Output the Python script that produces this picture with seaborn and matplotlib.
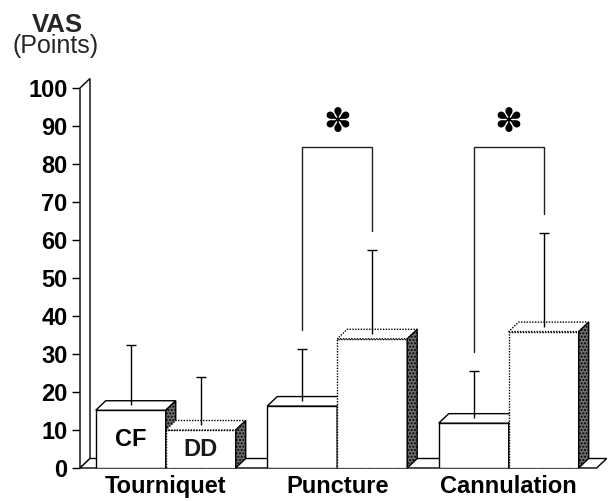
import seaborn as sns
import matplotlib.pyplot as plt
from matplotlib.patches import Polygon
import pandas as pd

sns.set_theme(style='white')
plt.rcParams['font.family'] = ['Liberation Sans', 'DejaVu Sans']

# values (VAS points)
procedures = ['Tourniquet', 'Puncture', 'Cannulation']
groups = ['CF', 'DD']
cf_mean = [15.2, 16.3, 11.8]
dd_mean = [10.0, 34.0, 35.9]
cf_sd = [17.3, 15.0, 13.8]
dd_sd = [14.0, 23.4, 25.9]
significant = ['Puncture', 'Cannulation']
yticks = list(range(0, 101, 10))

df = pd.DataFrame({
    'procedure': procedures * 2,
    'group': ['CF'] * 3 + ['DD'] * 3,
    'vas': cf_mean + dd_mean,
    'sd': cf_sd + dd_sd,
})

fig = plt.figure(figsize=(6.08, 5.01), dpi=100)
ax = fig.add_axes([80 / 608, 33 / 501, 528 / 608, 380 / 501])

sns.barplot(data=df, x='procedure', y='vas', hue='group', order=procedures,
            hue_order=groups, width=0.816, palette=['white', 'white'],
            saturation=1, edgecolor='black', linewidth=1, legend=False,
            errorbar=None, ax=ax)

xmin, xmax = -0.5, 2.579
ax.set_xlim(xmin, xmax)
ax.set_ylim(0, 100)
for s in ax.spines.values():
    s.set_visible(False)

# pseudo 3d depth offset (data units)
dx = 10 / 171.5
dy = 9.5 / 3.8

# left wall and floor
wall = Polygon([(xmin, 0), (xmin, 100), (xmin + dx, 100 + dy), (xmin + dx, dy)],
               closed=True, facecolor='white', edgecolor='black', lw=1,
               clip_on=False, zorder=1)
ax.add_patch(wall)
xr = 2.513
floor = Polygon([(xmin, 0), (xr, 0), (xr + dx, dy), (xmin + dx, dy)],
                closed=True, facecolor='white', edgecolor='black', lw=1,
                clip_on=False, zorder=1.5)
ax.add_patch(floor)

bars = sorted([p for p in ax.patches if p not in (wall, floor)], key=lambda p: p.get_x())
for k, bar in enumerate(bars):
    x0 = bar.get_x()
    w = bar.get_width()
    h = bar.get_height()
    is_dd = k % 2 == 1
    z = 3 + k * 0.3
    ls = (0, (1, 1)) if is_dd else '-'
    bar.set_zorder(z)
    bar.set_linestyle(ls)
    top = Polygon([(x0, h), (x0 + w, h), (x0 + w + dx, h + dy), (x0 + dx, h + dy)],
                  closed=True, facecolor='white', edgecolor='black', lw=1,
                  linestyle=ls, clip_on=False, zorder=z + 0.1)
    side = Polygon([(x0 + w, 0), (x0 + w + dx, dy), (x0 + w + dx, h + dy), (x0 + w, h)],
                   closed=True, facecolor='#6e6e6e', edgecolor='black', lw=1,
                   hatch='.....', clip_on=False, zorder=z + 0.2)
    ax.add_patch(top)
    ax.add_patch(side)

    grp = 'DD' if is_dd else 'CF'
    proc = procedures[k // 2]
    sd = df[(df.procedure == proc) & (df.group == grp)].sd.iloc[0]
    xc = x0 + w / 2
    ax.vlines(xc, h + dy / 2, h + sd, color='black', lw=1, zorder=10)
    ax.hlines(h + sd, xc - 0.029, xc + 0.029, color='black', lw=1, zorder=10)

    if k < 2:
        ax.text(xc, h / 2, grp, ha='center', va='center', fontsize=17,
                fontweight='bold', color='black' if not is_dd else '#1a1a1a',
                zorder=12)

# significance brackets
bracket_top = 84.5
gap = 5
for proc in significant:
    i = procedures.index(proc)
    cf_bar, dd_bar = bars[2 * i], bars[2 * i + 1]
    xl = cf_bar.get_x() + cf_bar.get_width() / 2
    xr_ = dd_bar.get_x() + dd_bar.get_width() / 2
    yl = cf_mean[i] + cf_sd[i] + gap
    yr = dd_mean[i] + dd_sd[i] + gap
    ax.plot([xl, xl, xr_, xr_], [yl, bracket_top, bracket_top, yr],
            color='#222222', lw=1, zorder=10)
    ax.text((xl + xr_) / 2, bracket_top + 6.3, '\u273d', ha='center', va='center',
            fontsize=24, color='black', family=['DejaVu Sans'])

ax.set_xlabel('')
ax.set_ylabel('')
ax.set_yticks(yticks)
ax.set_yticklabels([str(t) for t in yticks], fontsize=17, fontweight='bold')
ax.tick_params(axis='y', left=True, length=6, width=1, color='black', pad=3,
               labelcolor='black')
ax.tick_params(axis='x', bottom=False, length=0, pad=5, labelcolor='black')
ax.set_xticks(range(len(procedures)))
ax.set_xticklabels(procedures, fontsize=17, fontweight='bold')

fig.text(57.5 / 608, 1 - 31.5 / 501, 'VAS', ha='center', va='baseline',
         fontsize=18.5, fontweight='bold')
fig.text(56 / 608, 1 - 53.5 / 501, '(Points)', ha='center', va='baseline',
         fontsize=18)

fig.savefig('out.png', dpi=100, facecolor='white')
